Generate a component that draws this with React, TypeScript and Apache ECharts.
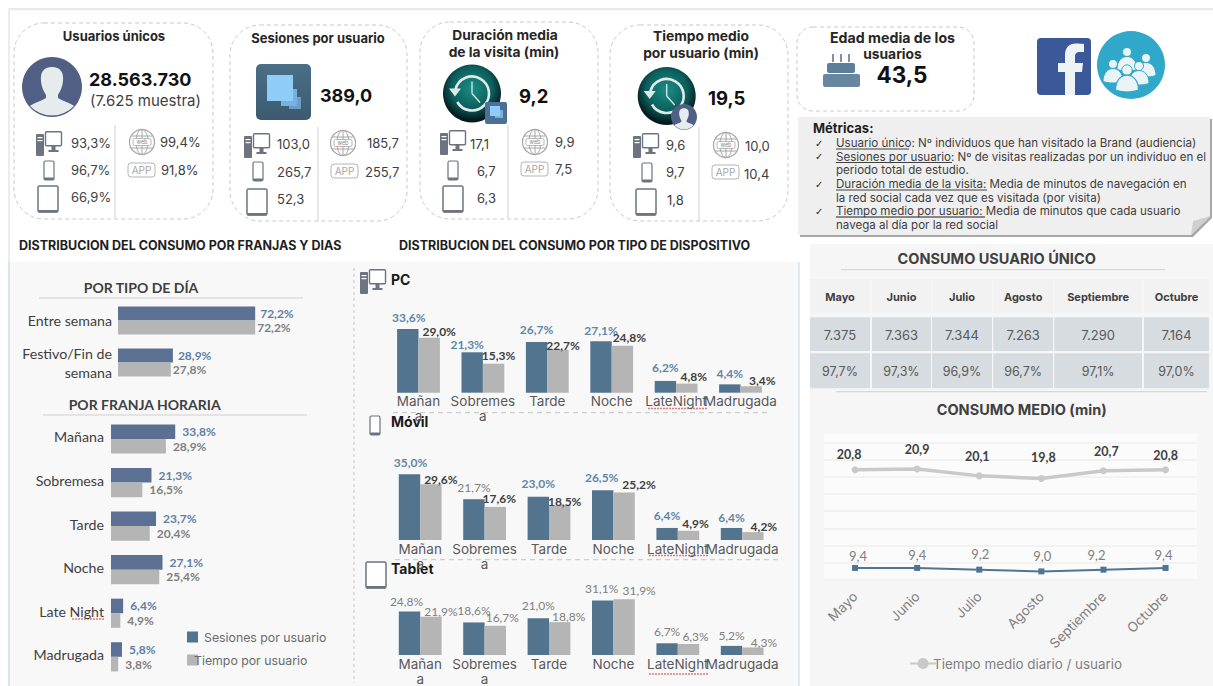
import React, { useEffect, useRef } from "react";
import * as echarts from "echarts";

const GOTHIC = "Inter, 'Noto Sans', sans-serif";
const CAL = "Lato, 'Noto Sans', sans-serif";

const SES = "Sesiones por usuario";
const TIE = "Tiempo por usuario";
const LINE_GRAY = "Tiempo medio diario / usuario";
const LINE_BLUE = "Duración media de la visita";

const dayCats = ["Entre semana", "Festivo/Fin de\nsemana"];
const daySes = [72.2, 28.9];
const dayTie = [72.2, 27.8];

const slotCats = ["Mañana", "Sobremesa", "Tarde", "Noche", "Late Night", "Madrugada"];
const slotSes = [33.8, 21.3, 23.7, 27.1, 6.4, 5.8];
const slotTie = [28.9, 16.5, 20.4, 25.4, 4.9, 3.8];

const devCats = ["Mañan\na", "Sobremes\na", "Tarde", "Noche", "LateNight", "Madrugada"];
const pcSes = [33.6, 21.3, 26.7, 27.1, 6.2, 4.4];
const pcTie = [29.0, 15.3, 22.7, 24.8, 4.8, 3.4];
const movSes = [35.0, 21.7, 23.0, 26.5, 6.4, 6.4];
const movTie = [29.6, 17.6, 18.5, 25.2, 4.9, 4.2];
const tabSes = [24.8, 18.6, 21.0, 31.1, 6.7, 5.2];
const tabTie = [21.9, 16.7, 18.8, 31.9, 6.3, 4.3];

const months = ["Mayo", "Junio", "Julio", "Agosto", "Septiembre", "Octubre"];
const tableUsers = ["7.375", "7.363", "7.344", "7.263", "7.290", "7.164"];
const tablePct = ["97,7%", "97,3%", "96,9%", "96,7%", "97,1%", "97,0%"];
const lineTiempo = [20.8, 20.9, 20.1, 19.8, 20.7, 20.8];
const lineDuracion = [9.4, 9.4, 9.2, 9.0, 9.2, 9.4];

const metricLines = [
  "Usuario único: Nº individuos que han visitado la Brand (audiencia)",
  "Sesiones por usuario: Nº de visitas realizadas por un individuo en el",
  "periodo total de estudio.",
  "Duración media de la visita: Media de minutos de navegación en",
  "la red social cada vez que es visitada (por visita)",
  "Tiempo medio por usuario: Media de minutos que cada usuario",
  "navega al día por la red social",
];

// label nudges (dx, dy), kept apart from the values
const nudgePcS = [[1, 0], [-5, 3], [0, -2], [0, 0], [0, -2], [0, 0]];
const nudgePcT = [[10, 5], [5, 3], [5, 7], [7, 3], [7, 4], [11, 5]];
const nudgeMovS = [[1, -1], [0, -1], [0, -2], [-1, -2], [0, -1], [0, 1]];
const nudgeMovT = [[10, 6], [4, 3], [5, 7], [15, 3], [7, 4], [11, 5]];
const nudgeTabS = [[-3, 1], [0, -1], [0, -2], [-1, -1], [0, -1], [0, 1]];
const nudgeTabT = [[10, 6], [7, 3], [9, 5], [15, 2], [7, 4], [11, 6]];
const nudgeLineG = [[-6, 0], [0, -4], [-2, -4], [2, -6], [3, -4], [0, 1]];
const nudgeLineB = [[3, 3], [0, 2], [1, -1], [1, -1], [-7, 0], [-2, 2]];

echarts.graphic.registerShape(
  "personShape",
  echarts.graphic.extendPath(
    "M30 10 C22 10 18 15 19 24 C19.5 31 23 36 24 38 L24 41 C20 44 11 46 8 49 A30 30 0 0 0 52 49 C49 46 40 44 36 41 L36 38 C37 36 40.5 31 41 24 C42 15 38 10 30 10 Z",
    {}
  )
);
echarts.graphic.registerShape(
  "fbShape",
  echarts.graphic.extendPath(
    "M38 57 L38 34 L45 34 L46 25 L38 25 L38 19 C38 16 39 14 43 14 L47 14 L47 6 C45 6 42 5.6 39 5.6 C32 5.6 28 10 28 17 L28 25 L21 25 L21 34 L28 34 L28 57 Z",
    {}
  )
);
echarts.graphic.registerShape(
  "bustShape",
  echarts.graphic.extendPath("M0 14 C0 5 5 1 10 1 C15 1 20 5 20 14 C14 16 6 16 0 14 Z", {})
);

function t(text: string, x: number, y: number, o: any = {}) {
  return {
    type: "text",
    x,
    y,
    style: {
      text,
      fill: o.color || "#404040",
      font: `${o.weight || "normal"} ${o.size || 13}px ${o.font || GOTHIC}`,
      textAlign: o.align || "left",
      textVerticalAlign: "middle",
    },
  };
}
const rect = (x: number, y: number, width: number, height: number, fill: any, r = 0, extra: any = {}) => ({
  type: "rect",
  shape: { x, y, width, height, r },
  style: { fill, ...extra },
});
const line = (x1: number, y1: number, x2: number, y2: number, stroke: string, lineWidth = 1, dash?: number[]) => ({
  type: "line",
  shape: { x1, y1, x2, y2 },
  style: { stroke, lineWidth, lineDash: dash },
});
const circle = (cx: number, cy: number, r: number, style: any) => ({ type: "circle", shape: { cx, cy, r }, style });

const ICON = "#6d7380";
function pcIcon(x: number, y: number) {
  return [
    rect(x, y + 3, 8, 22, ICON, 1),
    rect(x + 1.5, y + 6, 5, 1.2, "#ffffff"),
    rect(x + 1.5, y + 9, 5, 1.2, "#ffffff"),
    rect(x + 9.5, y + 0.8, 16, 14, "#ffffff", 1, { stroke: ICON, lineWidth: 1.4 }),
    rect(x + 15.5, y + 15, 4, 4, ICON),
    rect(x + 12.5, y + 19, 10, 2, ICON),
  ];
}
const phoneIcon = (x: number, y: number) => [
  rect(x, y, 10, 19, "#ffffff", 1.5, { stroke: ICON, lineWidth: 1.2 }),
  rect(x, y + 16.5, 10, 2.5, ICON, 1),
];
const tabletIcon = (x: number, y: number) => [
  rect(x, y, 20, 26, "#ffffff", 1.5, { stroke: ICON, lineWidth: 1.5 }),
  rect(x, y + 24, 20, 2.5, ICON, 1),
];
function globeIcon(cx: number, cy: number) {
  const g = "#a6a6a6";
  return [
    circle(cx, cy, 12.5, { fill: "#fff", stroke: g, lineWidth: 1.2 }),
    { type: "ellipse", shape: { cx, cy, rx: 6, ry: 12.5 }, style: { fill: "none", stroke: g, lineWidth: 1 } },
    line(cx - 11, cy - 6, cx + 11, cy - 6, g),
    line(cx - 11, cy + 6, cx + 11, cy + 6, g),
    line(cx, cy - 12.5, cx, cy + 12.5, g),
    rect(cx - 9, cy - 3.5, 18, 7, "#fff", 1.5, { stroke: g, lineWidth: 0.8 }),
    t("web", cx, cy, { size: 5.5, align: "center", color: "#8a8a8a" }),
  ];
}
const appIcon = (x: number, y: number) => [
  rect(x, y, 27, 14, "#fff", 3, { stroke: "#b5b5b5", lineWidth: 1 }),
  t("APP", x + 13.5, y + 7.2, { size: 10, align: "center", color: "#a6a6a6" }),
];
function clockIcon(cx: number, cy: number) {
  return [
    circle(cx, cy, 29, {
      fill: new echarts.graphic.RadialGradient(0.5, 0.4, 0.55, [
        { offset: 0, color: "#1a8f86" },
        { offset: 0.65, color: "#0c5e5c" },
        { offset: 1, color: "#051c1e" },
      ]),
    }),
    {
      type: "arc",
      shape: { cx, cy, r: 17, startAngle: (-165 * Math.PI) / 180, endAngle: (150 * Math.PI) / 180, clockwise: true },
      style: { stroke: "#dfe9e8", lineWidth: 2.6, fill: "none" },
    },
    { type: "polygon", shape: { points: [[cx - 23, cy - 5], [cx - 11, cy - 5], [cx - 17, cy + 3]] }, style: { fill: "#dfe9e8" } },
    line(cx, cy, cx, cy - 12, "#dfe9e8", 1.3),
    line(cx, cy, cx + 8, cy + 9, "#dfe9e8", 1.3),
  ];
}
function bust(cx: number, cy: number, s: number, bg: string) {
  return [
    circle(cx, cy, 4.5 * s, { fill: "#eaf3f6", stroke: bg, lineWidth: 1 }),
    {
      type: "bustShape",
      x: cx - 10 * s,
      y: cy + 3.5 * s,
      scaleX: s,
      scaleY: s,
      style: { fill: "#eaf3f6", stroke: bg, lineWidth: 1 },
    },
  ];
}

const hl = (x: number, y: number, w: number) => line(x, y, x + w, y, "#e07a7a", 1.4, [2, 1]);

function buildGraphic() {
  const els: any[] = [];
  // page frame and panels
  els.push(rect(8, 8, 1205, 2.2, "#e9e9e9"));
  els.push(rect(8, 8, 2, 254, "#ececec"));
  els.push(rect(8, 262, 2.5, 424, "#d7e4f1"));
  els.push(rect(10, 262, 790, 424, "#f8f8f8"));
  els.push(rect(798, 262, 2, 424, "#dfe9f3"));
  els.push(rect(810, 244, 403, 442, "#f6f6f6"));
  els.push(rect(824, 434, 373, 146, "#fbfbfb"));

  // KPI boxes
  const box = (x: number, y: number, w: number, h: number, r = 30) =>
    rect(x, y, w, h, "#ffffff", r, { stroke: "#c9c9c9", lineWidth: 1, lineDash: [4, 3] });
  els.push(box(14, 23, 199, 196), box(230, 25, 177, 196), box(420, 22, 178, 197), box(610, 25, 178, 196), box(797, 27, 177, 84, 16));

  const tb = { weight: "bold", size: 13, color: "#262626", align: "center" };
  const tb2 = { ...tb, size: 13.8 };
  els.push(t("Usuarios únicos", 114, 36, tb), t("Sesiones por usuario", 318, 38, tb));
  els.push(t("Duración media", 505, 35, tb2), t("de la visita (min)", 504, 52, tb2));
  els.push(t("Tiempo medio", 701, 36, tb2), t("por usuario (min)", 701, 53, tb2));
  els.push(t("Edad media de los", 892.5, 37, { ...tb, size: 14.2 }), t("usuarios", 892.5, 54, tb2));

  const big = { weight: "bold", size: 18.5, color: "#111111", font: GOTHIC };
  els.push(t("28.563.730", 89, 79, { ...big, size: 18 }), t("(7.625 muestra)", 90, 100, { size: 15, color: "#404040" }));
  els.push(t("389,0", 320, 95, { ...big, size: 18 }), t("9,2", 519, 96, big), t("19,5", 708, 98, big));
  els.push(t("43,5", 902, 74, { ...big, size: 22.5, align: "center" }));

  // big icons
  els.push(circle(52, 87, 30, { fill: "#525f85" }));
  els.push({ type: "personShape", x: 22, y: 57, style: { fill: "#e6ebed" } });
  els.push(rect(256, 64, 55, 56, new echarts.graphic.LinearGradient(0, 0, 0, 1, [{ offset: 0, color: "#4a6f86" }, { offset: 1, color: "#3c5a70" }]), 5));
  els.push(rect(289, 97, 12, 12, "#6a9ec5"), rect(281, 89, 16, 17, "#78b2de"), rect(267, 75, 26, 26, "#8fcdf9"));
  els.push(...clockIcon(472, 93.5));
  els.push(rect(485, 102, 22, 22, "#4a7195", 2), rect(495, 110, 8, 8, "#78b2de"), rect(490, 106, 10, 10, "#8fcdf9"));
  els.push(...clockIcon(666.7, 96));
  els.push(circle(684, 117, 13, { fill: "#525f85" }));
  els.push({ type: "personShape", x: 671, y: 104, scaleX: 0.433, scaleY: 0.433, style: { fill: "#e6ebed" } });
  // cake
  const cake = "#5d7e99";
  els.push(rect(832, 54, 2, 8, "#7d93a6"), rect(840, 54, 2, 8, "#7d93a6"), rect(848, 54, 2, 8, "#7d93a6"));
  els.push(rect(827, 63, 28, 10, cake, 2), rect(823, 74, 37, 13, "#67869f", 2));
  // facebook + group
  els.push(rect(1037, 38, 54, 57, "#3b5998", 4));
  els.push({ type: "fbShape", x: 1037, y: 38, style: { fill: "#f0f3f6" } });
  els.push(circle(1131, 65, 34, { fill: "#2fa8c9" }));
  els.push(...bust(1146, 58, 1, "#2fa8c9"), ...bust(1127, 52, 1, "#2fa8c9"), ...bust(1113, 64, 1, "#2fa8c9"));
  els.push(...bust(1139, 66, 1, "#2fa8c9"), ...bust(1127, 70, 1.15, "#2fa8c9"));

  // small device rows
  const vals = (arr: [string, number, number][]) => arr.map(([s, x, y]) => t(s, x, y, { size: 13, color: "#404040" }));
  els.push(line(115, 125, 115, 218, "#d0d0d0"), line(318, 127, 318, 221, "#d0d0d0"), line(508, 125, 508, 218, "#d0d0d0"), line(699, 127, 699, 221, "#d0d0d0"));
  els.push(...pcIcon(36, 131), ...phoneIcon(44, 161), ...tabletIcon(38, 186), ...globeIcon(142, 142), ...appIcon(128, 163));
  els.push(...pcIcon(244, 133), ...phoneIcon(253, 162), ...tabletIcon(247, 189), ...globeIcon(343, 143), ...appIcon(331, 164));
  els.push(...pcIcon(440, 130), ...phoneIcon(448, 161), ...tabletIcon(443, 186), ...globeIcon(535, 142), ...appIcon(521, 162));
  els.push(...pcIcon(633, 133), ...phoneIcon(642, 163), ...tabletIcon(636, 189), ...globeIcon(726, 145), ...appIcon(712, 165));
  els.push(...vals([
    ["93,3%", 71, 143], ["96,7%", 71, 170], ["66,9%", 71, 197], ["99,4%", 160, 142], ["91,8%", 161, 170],
    ["103,0", 277, 144], ["265,7", 277, 172], ["52,3", 277, 199], ["185,7", 367, 143], ["255,7", 365, 172],
    ["17,1", 470, 144], ["6,7", 477, 171], ["6,3", 477, 198], ["9,9", 555, 142], ["7,5", 555, 169],
    ["9,6", 666, 145], ["9,7", 666, 172], ["1,8", 667, 200], ["10,0", 745, 146], ["10,4", 744, 174],
  ]));

  // metrics note
  els.push({ type: "polygon", shape: { points: [[800, 119], [1212, 119], [1212, 218], [1193, 237], [800, 237]] }, style: { fill: "#a8a8a8" } });
  els.push({ type: "polygon", shape: { points: [[798, 117], [1210, 117], [1210, 216], [1191, 235], [798, 235]] }, style: { fill: "#efefef" } });
  els.push({ type: "polygon", shape: { points: [[1211, 216], [1193, 221], [1191, 235]] }, style: { fill: "#cfcfcf" } });
  els.push(t("Métricas:", 813, 128, { weight: "bold", size: 13, color: "#1f1f1f" }));
  const ys = [143, 156.5, 170, 184, 197.5, 211, 225];
  metricLines.forEach((s, i) => els.push(t(s, 836, ys[i], { size: 11.55, color: "#404040" })));
  [143, 156.5, 184, 211].forEach((y) => els.push(t("✓", 815, y, { size: 10, font: "'DejaVu Sans'", color: "#262626" })));
  els.push(line(836, 149, 909, 149, "#404040"), line(836, 162.5, 952, 162.5, "#404040"), line(836, 190, 987, 190, "#404040"), line(836, 217, 985, 217, "#1f1f1f"));

  // section headings
  els.push(t("DISTRIBUCION DEL CONSUMO POR FRANJAS Y DIAS", 19, 245, { weight: "bold", size: 12.5, color: "#1f1f1f" }));
  els.push(t("DISTRIBUCION DEL CONSUMO POR TIPO DE DISPOSITIVO", 399, 245, { weight: "bold", size: 12.5, color: "#1f1f1f" }));
  const sub = { weight: "bold", size: 14, color: "#404040", align: "center", font: CAL };
  els.push(t("POR TIPO DE DÍA", 141, 287, sub), line(39, 298, 303, 298, "#cfcfcf", 1));
  els.push(t("POR FRANJA HORARIA", 144.7, 404.5, sub), line(43, 415, 307, 415, "#cfcfcf", 1));
  els.push(hl(72, 619, 33));

  // device panel
  els.push(line(354, 268, 354, 683, "#c4c4c4", 1, [3, 3]));
  els.push(line(393, 412.7, 768, 412.7, "#c4c4c4", 1, [5, 4]), line(395, 559.7, 778, 559.7, "#c4c4c4", 1, [5, 4]));
  const dev = { weight: "bold", size: 14, color: "#1a1a1a" };
  els.push(...pcIcon(360, 269), t("PC", 391, 279, dev));
  els.push(...phoneIcon(370, 416), t("Móvil", 391, 421, dev));
  els.push(...tabletIcon(366, 562), t("Tablet", 391, 568, dev));
  els.push(hl(648, 408.5, 60), hl(649, 555.5, 60), hl(649, 674, 60));

  // table
  const cols: [number, number][] = [[810, 60], [872, 59], [932, 60], [993.3, 59.7], [1054.3, 87.7], [1144, 65]];
  const rows: [number, number, string][] = [[279, 34.3, "#f2f2f2"], [317.3, 33.7, "#d6dce0"], [353.3, 35, "#d6dce0"]];
  els.push(t("CONSUMO USUARIO ÚNICO", 996.7, 258, { weight: "bold", size: 14.5, align: "center", color: "#404040" }));
  els.push(line(841, 269.7, 1165, 269.7, "#cfcfcf", 1));
  cols.forEach(([x, w], c) => {
    rows.forEach(([y, h, fill]) => els.push(rect(x, y, w, h, fill)));
    els.push(t(months[c], x + w / 2, 296.5, { weight: "bold", size: 11, align: "center", color: "#404040" }));
    els.push(t(tableUsers[c], x + w / 2, 334.5, { size: 13, align: "center", color: "#595959" }));
    els.push(t(tablePct[c], x + w / 2, 371, { size: 12.5, align: "center", color: "#595959" }));
  });
  els.push(line(836, 391.7, 1207, 391.7, "#cfcfcf", 1));
  els.push(t("CONSUMO MEDIO (min)", 1021.7, 409.3, { weight: "bold", size: 14.5, align: "center", color: "#404040" }));
  return els;
}

const fmtPct = (p: any) => (p.value as number).toFixed(1).replace(".", ",") + "%";
const fmtNum = (p: any) => (p.value as number).toFixed(1).replace(".", ",");

const BLUE_H = "#5b7092";
const BLUE_V = "#53748f";
const GRAY = "#b5b5b5";
const LBL_BLUE = "#5f87a8";
const LBL_DARK = "#404040";
const LBL_SOFT = "#7f7f7f";

function hSeries(name: string, values: number[], grid: number, color: string, lblColor: string, dist: number, bw: number) {
  return {
    name,
    type: "bar",
    xAxisIndex: grid,
    yAxisIndex: grid,
    barWidth: bw,
    barGap: 0,
    data: values,
    itemStyle: { color },
    label: {
      show: true,
      position: "right",
      distance: dist,
      formatter: fmtPct,
      color: lblColor,
      fontFamily: CAL,
      fontWeight: "bold",
      fontSize: 12,
    },
  };
}
function vSeries(name: string, values: number[], grid: number, color: string, nudges: number[][], lblColor: (i: number) => string, bold: (i: number) => boolean) {
  return {
    name,
    type: "bar",
    xAxisIndex: grid,
    yAxisIndex: grid,
    barWidth: 21.4,
    barGap: 0,
    itemStyle: { color },
    data: values.map((value, i) => ({
      value,
      label: {
        offset: nudges[i],
        color: lblColor(i),
        fontWeight: bold(i) ? "bold" : "normal",
      },
    })),
    label: { show: true, position: "top", formatter: fmtPct, fontFamily: CAL, fontSize: 12 },
  };
}
function lineSeries(name: string, values: number[], grid: number, color: string, width: number, symbol: string, size: number, nudges: number[][], lblColor: string, bold: boolean, fs: number) {
  return {
    name,
    type: "line",
    xAxisIndex: grid,
    yAxisIndex: grid,
    symbol,
    symbolSize: size,
    lineStyle: { color, width },
    itemStyle: { color },
    data: values.map((value, i) => ({ value, label: { offset: nudges[i] } })),
    label: {
      show: true,
      position: "top",
      formatter: fmtNum,
      color: lblColor,
      fontFamily: CAL,
      fontWeight: bold ? "bold" : "normal",
      fontSize: fs,
    },
  };
}

const hideValue = (gridIndex: number, max: number, min = 0, extra: any = {}) => ({
  type: "value",
  gridIndex,
  min,
  max,
  axisLine: { show: false },
  axisTick: { show: false },
  axisLabel: { show: false },
  splitLine: { show: false },
  ...extra,
});
const hCat = (gridIndex: number, data: string[], margin: number, raise: number) => ({
  type: "category",
  gridIndex,
  data,
  inverse: true,
  axisLine: { show: false },
  axisTick: { show: false },
  axisLabel: raise
    ? {
        interval: 0,
        margin,
        formatter: "{a|{value}}",
        rich: { a: { color: "#404040", fontFamily: CAL, fontSize: 14.2, lineHeight: 19, padding: [0, 0, raise, 0] } },
      }
    : { interval: 0, margin, color: "#404040", fontFamily: CAL, fontSize: 14.2, lineHeight: 19 },
});
const vCat = (gridIndex: number, data: string[]) => ({
  type: "category",
  gridIndex,
  data,
  axisLine: { show: false },
  axisTick: { show: false },
  axisLabel: { interval: 0, margin: 1, color: "#595959", fontFamily: GOTHIC, fontSize: 13.5, lineHeight: 15 },
});

export default function App() {
  const ref = useRef<HTMLDivElement>(null);
  useEffect(() => {
    const chart = echarts.init(ref.current!, undefined, { renderer: "svg" });
    const soft = () => LBL_SOFT;
    chart.setOption({
      animation: false,
      backgroundColor: "#ffffff",
      grid: [
        { left: 118, top: 299.5, width: 190, height: 84 },
        { left: 111, top: 417.2, width: 190, height: 261.4 },
        { left: 386.3, top: 316.8, width: 386.4, height: 75.9 },
        { left: 388, top: 464.8, width: 386.4, height: 75.2 },
        { left: 388, top: 585, width: 386.4, height: 74 },
        { left: 824, top: 442.3, width: 372.6, height: 137.7 },
      ],
      xAxis: [
        hideValue(0, 100),
        hideValue(1, 100),
        vCat(2, devCats),
        vCat(3, devCats),
        vCat(4, devCats),
        {
          type: "category",
          gridIndex: 5,
          data: months,
          axisLine: { show: false },
          axisTick: { show: false },
          axisLabel: { interval: 0, rotate: 45, margin: 14, color: "#7f7f7f", fontFamily: GOTHIC, fontSize: 13.5 },
        },
      ],
      yAxis: [
        hCat(0, dayCats, 6, 0),
        hCat(1, slotCats, 7, 4),
        hideValue(2, 40),
        hideValue(3, 40),
        hideValue(4, 40),
        hideValue(5, 24, 8, { interval: 2, splitLine: { show: true, lineStyle: { color: "#efefef", width: 1.5 } } }),
      ],
      legend: [
        {
          left: 187,
          top: 631,
          padding: 0,
          orient: "vertical",
          itemWidth: 11,
          itemHeight: 11,
          itemGap: 11,
          data: [
            { name: SES, icon: "rect", itemStyle: { color: "#4f7591" }, textStyle: { padding: [-2, 0, 0, 1] } },
            { name: TIE, icon: "rect", itemStyle: { color: GRAY }, textStyle: { padding: [-2, 0, 0, -9] } },
          ],
          textStyle: { fontFamily: GOTHIC, fontSize: 12.3, color: "#6b6b6b" },
        },
        {
          left: 904,
          top: 652,
          itemWidth: 26,
          itemHeight: 14,
          data: [LINE_GRAY],
          textStyle: { fontFamily: GOTHIC, fontSize: 13.4, color: "#7f7f7f", padding: [0, 0, 0, -8] },
        },
      ],
      series: [
        hSeries(SES, daySes, 0, BLUE_H, "#5f7fa5", 5, 14),
        hSeries(TIE, dayTie, 0, GRAY, LBL_SOFT, 2, 14),
        hSeries(SES, slotSes, 1, BLUE_H, "#5f7fa5", 7, 14.6),
        hSeries(TIE, slotTie, 1, GRAY, LBL_SOFT, 7, 14.6),
        vSeries(SES, pcSes, 2, BLUE_V, nudgePcS, () => LBL_BLUE, () => true),
        vSeries(TIE, pcTie, 2, GRAY, nudgePcT, () => LBL_DARK, () => true),
        vSeries(SES, movSes, 3, BLUE_V, nudgeMovS, (i) => (i === 1 ? LBL_SOFT : LBL_BLUE), (i) => i !== 1),
        vSeries(TIE, movTie, 3, GRAY, nudgeMovT, () => LBL_DARK, () => true),
        vSeries(SES, tabSes, 4, BLUE_V, nudgeTabS, soft, () => false),
        vSeries(TIE, tabTie, 4, GRAY, nudgeTabT, soft, () => false),
        lineSeries(LINE_GRAY, lineTiempo, 5, "#c9c9c9", 3.5, "circle", 7, nudgeLineG, LBL_DARK, true, 12.5),
        lineSeries(LINE_BLUE, lineDuracion, 5, "#4f7591", 2, "rect", 6, nudgeLineB, LBL_SOFT, false, 13),
      ],
      graphic: { elements: buildGraphic() },
    });
    return () => chart.dispose();
  }, []);
  return <div ref={ref} style={{ position: "fixed", left: 0, top: 0, width: 1213, height: 686 }} />;
}
